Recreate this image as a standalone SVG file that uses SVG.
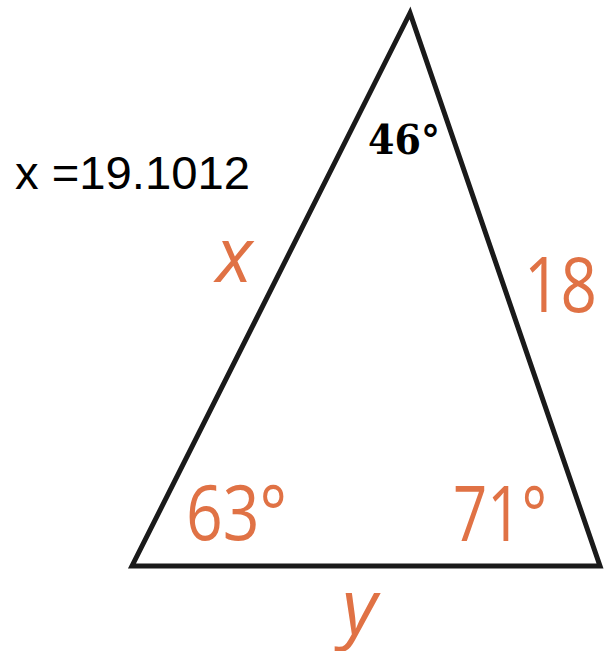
<svg xmlns="http://www.w3.org/2000/svg" width="604" height="651" viewBox="0 0 604 651">
<style>
.lbl{font-family:"Open Sans","Liberation Sans",sans-serif;fill:#e07245;font-size:76px}
.it{font-style:italic}
</style>
<rect width="604" height="651" fill="#ffffff"/>
<g id="triangle">
<polygon points="410,13 132,566 600,566" fill="none" stroke="#1a1a1a" stroke-width="5" stroke-linejoin="miter"/>
</g>
<g id="result"><text x="15" y="189" font-family="Liberation Sans, Arial, sans-serif" font-size="47" fill="#000" textLength="235" lengthAdjust="spacingAndGlyphs">x =19.1012</text></g>
<g id="apex-angle"><text x="368" y="154" font-family="DejaVu Serif, serif" font-weight="bold" font-size="41" fill="#000" textLength="72" lengthAdjust="spacingAndGlyphs">46°</text></g>
<g id="side-x"><text class="lbl it" x="216" y="282">x</text></g>
<g id="side-18"><text class="lbl" x="524" y="312" textLength="73" lengthAdjust="spacingAndGlyphs">18</text></g>
<g id="angle-63"><text class="lbl" x="186" y="540" textLength="101" lengthAdjust="spacingAndGlyphs">63°</text></g>
<g id="angle-71"><text class="lbl" x="453" y="541" textLength="94" lengthAdjust="spacingAndGlyphs">71°</text></g>
<g id="side-y"><text class="lbl it" x="342" y="634">y</text></g>
</svg>
